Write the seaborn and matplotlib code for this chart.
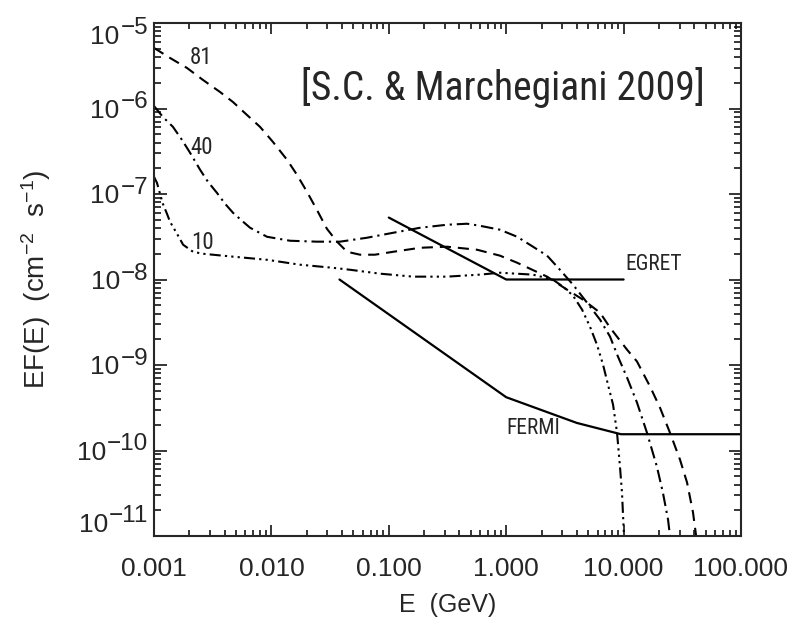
import matplotlib
matplotlib.use("Agg")
import matplotlib.pyplot as plt
from matplotlib import font_manager
from matplotlib.font_manager import FontProperties
from matplotlib.ticker import LogLocator, NullFormatter
import pandas as pd
import seaborn as sns

# ---- model spectra: photon energy E (GeV) and E F(E) (cm^-2 s^-1) ----
e_81 = [1.00e-3, 1.37e-3, 1.91e-3, 2.61e-3, 3.65e-3, 4.71e-3, 6.19e-3, 8.00e-3,
        1.03e-2, 1.36e-2, 1.65e-2, 2.01e-2, 2.44e-2, 2.97e-2, 3.62e-2, 4.41e-2,
        5.69e-2, 7.62e-2, 0.109, 0.185, 0.313, 0.564, 0.885, 1.24, 2.23, 3.30,
        4.51, 6.30, 7.66, 10.7, 13.0, 16.8, 20.4, 24.8, 30.2, 34.7, 39.0, 41.4]
f_81 = [5.11e-6, 3.90e-6, 2.98e-6, 2.16e-6, 1.56e-6, 1.19e-6, 8.41e-7, 6.10e-7,
        4.07e-7, 2.51e-7, 1.68e-7, 1.06e-7, 6.53e-8, 3.92e-8, 2.77e-8, 2.11e-8,
        1.95e-8, 1.95e-8, 2.11e-8, 2.35e-8, 2.42e-8, 2.23e-8, 1.90e-8, 1.57e-8,
        1.08e-8, 7.60e-9, 5.81e-9, 4.09e-9, 2.74e-9, 1.51e-9, 1.10e-9, 5.60e-10,
        3.18e-10, 1.62e-10, 7.85e-11, 4.23e-11, 1.89e-11, 1.02e-11]

e_40 = [1.00e-3, 1.19e-3, 1.45e-3, 1.73e-3, 2.03e-3, 2.47e-3, 2.88e-3, 3.44e-3,
        4.03e-3, 4.71e-3, 5.62e-3, 6.58e-3, 9.18e-3, 1.44e-2, 2.44e-2, 3.84e-2,
        6.52e-2, 0.109, 0.185, 0.313, 0.464, 0.598, 0.885, 1.24, 1.69, 2.23,
        2.87, 3.71, 4.88, 6.30, 7.66, 8.96, 10.7, 13.0, 15.8, 19.2, 21.6, 23.9, 24.8]
f_40 = [1.07e-6, 7.97e-7, 6.10e-7, 4.30e-7, 3.03e-7, 1.92e-7, 1.39e-7, 1.03e-7,
        7.69e-8, 6.03e-8, 4.86e-8, 4.03e-8, 3.16e-8, 2.84e-8, 2.77e-8, 2.77e-8,
        3.08e-8, 3.52e-8, 4.03e-8, 4.37e-8, 4.49e-8, 4.25e-8, 3.82e-8, 3.16e-8,
        2.42e-8, 1.90e-8, 1.30e-8, 8.69e-9, 5.36e-9, 3.39e-9, 2.15e-9, 1.25e-9,
        7.13e-10, 3.64e-10, 1.62e-10, 6.50e-11, 3.23e-11, 1.56e-11, 1.02e-11]

e_10 = [1.00e-3, 1.06e-3, 1.12e-3, 1.19e-3, 1.29e-3, 1.37e-3, 1.57e-3, 1.77e-3,
        2.15e-3, 2.61e-3, 4.71e-3, 9.18e-3, 1.75e-2, 3.35e-2, 4.68e-2, 8.42e-2,
        0.161, 0.313, 0.598, 0.885, 1.69, 2.50, 3.05, 3.71, 4.43, 5.17, 5.93,
        6.68, 7.36, 8.13, 8.79, 9.31, 9.69, 9.88, 10.08]
f_10 = [1.59e-7, 1.35e-7, 1.03e-7, 7.69e-8, 5.87e-8, 4.73e-8, 3.43e-8, 2.55e-8,
        2.11e-8, 2.00e-8, 1.85e-8, 1.70e-8, 1.49e-8, 1.37e-8, 1.30e-8, 1.17e-8,
        1.08e-8, 1.08e-8, 1.14e-8, 1.20e-8, 1.14e-8, 9.96e-9, 8.24e-9, 6.47e-9,
        4.44e-9, 2.81e-9, 1.73e-9, 1.01e-9, 5.90e-10, 3.44e-10, 1.62e-10,
        6.50e-11, 3.23e-11, 1.79e-11, 1.02e-11]

# ---- instrument sensitivities ----
e_egret = [0.1, 1.0, 10.0]
f_egret = [5.3e-8, 1.0e-8, 1.0e-8]
e_fermi = [0.038, 1.0, 4.0, 9.5, 100.0]
f_fermi = [1.0e-8, 4.2e-10, 2.1e-10, 1.55e-10, 1.55e-10]

# ---- axis ticks and text ----
x_ticks = [0.001, 0.01, 0.1, 1.0, 10.0, 100.0]
x_tick_labels = ["0.001", "0.010", "0.100", "1.000", "10.000", "100.000"]
y_ticks = [1e-5, 1e-6, 1e-7, 1e-8, 1e-9, 1e-10, 1e-11]
y_exponents = ["\u22125", "\u22126", "\u22127", "\u22128", "\u22129", "\u221210", "\u221211"]
curve_names = ["81", "40", "10"]
curve_label_pos = [(2.51e-3, 3.9e-6), (2.56e-3, 3.47e-7), (2.6e-3, 2.69e-8)]
citation = "[S.C. & Marchegiani 2009]"


def condensed_sans():
    """Return the file of an upright, regular-weight condensed sans face, if any."""
    preferred = ["liberation sans narrow", "arial narrow", "roboto condensed",
                 "noto sans", "open sans", "dejavu sans", "lato", "inter"]
    found = []
    for f in font_manager.fontManager.ttflist:
        nm = f.name.lower()
        narrow = ("narrow" in nm or "condensed" in nm
                  or str(f.stretch) in ("condensed", "semi-condensed", "extra-condensed"))
        if not narrow or f.style != "normal":
            continue
        if "mono" in nm or "serif" in nm or "cjk" in nm:
            continue
        if f.weight not in (400, "normal", "regular", "book"):
            continue
        rank = next((i for i, p in enumerate(preferred) if nm.startswith(p)), len(preferred))
        found.append((rank, f.fname))
    return sorted(found)[0][1] if found else None


# ---- styling ----
sns.set_theme(style="ticks")
MAIN = "Liberation Sans"
plt.rcParams["font.family"] = [MAIN, "DejaVu Sans"]
plt.rcParams["mathtext.fontset"] = "custom"
plt.rcParams["mathtext.rm"] = MAIN
plt.rcParams["mathtext.it"] = MAIN
plt.rcParams["mathtext.default"] = "regular"
plt.rcParams["lines.scale_dashes"] = False
plt.rcParams["axes.linewidth"] = 1.5

narrow_file = condensed_sans()
if narrow_file:
    note_fp = FontProperties(fname=narrow_file, size=28.5)
    lab_fp = FontProperties(fname=narrow_file, size=15.5)
    num_fp = FontProperties(fname=narrow_file, size=16.5)
else:
    note_fp = FontProperties(family=MAIN, size=25)
    lab_fp = FontProperties(family=MAIN, size=13.5)
    num_fp = FontProperties(family=MAIN, size=15.5)

fig = plt.figure(figsize=(8.04, 6.2), dpi=100)
ax = fig.add_axes([154 / 804, 1 - 536 / 620, 587 / 804, 513 / 620])
ax.set_xscale("log")
ax.set_yscale("log")

frames = []
for name, e, f in [("81", e_81, f_81), ("40", e_40, f_40), ("10", e_10, f_10),
                   ("EGRET", e_egret, f_egret), ("FERMI", e_fermi, f_fermi)]:
    frames.append(pd.DataFrame({"curve": name, "E": e, "EF": f}))
df = pd.concat(frames, ignore_index=True)

styles = {
    "81": dict(linestyle=(0, (8.0, 5.0)), linewidth=1.5),
    "40": dict(linestyle=(0, (9.0, 3.5, 1.6, 3.5)), linewidth=1.5),
    "10": dict(linestyle=(0, (8.0, 3.0, 1.6, 3.0, 1.6, 3.0, 1.6, 3.0)), linewidth=1.5),
    "EGRET": dict(linestyle="-", linewidth=1.6),
    "FERMI": dict(linestyle="-", linewidth=1.6),
}
for name, kw in styles.items():
    sns.lineplot(data=df[df["curve"] == name], x="E", y="EF", ax=ax,
                 color="black", estimator=None, sort=False, legend=False, **kw)

ax.set_xlim(1e-3, 1e2)
ax.set_ylim(1e-11, 1e-5)
ax.grid(False)

# ticks
ax.set_xticks(x_ticks, labels=x_tick_labels)
ax.xaxis.set_minor_locator(LogLocator(base=10, subs=range(2, 10), numticks=100))
ax.xaxis.set_minor_formatter(NullFormatter())
ax.yaxis.set_major_locator(LogLocator(base=10, numticks=100))
ax.yaxis.set_minor_locator(LogLocator(base=10, subs=range(2, 10), numticks=100))
ax.yaxis.set_minor_formatter(NullFormatter())
ax.tick_params(which="both", direction="in", top=True, right=True,
               width=1.1, color="black")
ax.tick_params(axis="x", which="major", length=8, labelsize=19, pad=15)
ax.tick_params(axis="x", which="minor", length=4.5)
ax.tick_params(axis="y", which="major", length=9, labelleft=False)
ax.tick_params(axis="y", which="minor", length=5)

# power-of-ten labels on the y axis, with a full-size exponent
y_shift = {0: -8.0, len(y_ticks) - 1: 10.0}
for i, (val, ex) in enumerate(zip(y_ticks, y_exponents)):
    dy = y_shift.get(i, 0.0)
    ex_txt = ax.annotate(ex, xy=(0, val), xycoords=("axes fraction", "data"),
                         xytext=(-4.3, dy), textcoords="offset points",
                         ha="right", va="baseline", fontsize=17.5)
    ax.annotate("10", xy=(0, val), xycoords=(ex_txt, "data"),
                xytext=(-0.5, dy - 6.8), textcoords="offset points",
                ha="right", va="baseline", fontsize=19)

ax.set_xlabel("E  (GeV)", fontsize=18)
ax.xaxis.set_label_coords(0.5, -0.112)
ax.set_ylabel("EF(E)  (cm$^{-2}$  s$^{-1}$)", fontsize=20)
ax.yaxis.set_label_coords(-0.172, 0.5)

# curve and instrument labels
for name, (x, y) in zip(curve_names, curve_label_pos):
    ax.text(x, y, name, ha="center", va="center", fontproperties=num_fp)
ax.text(10.3, 1.49e-8, "EGRET", ha="left", va="center", fontproperties=lab_fp)
ax.text(1.69, 1.81e-10, "FERMI", ha="center", va="center", fontproperties=lab_fp)

ax.text(0.595, 0.875, citation, transform=ax.transAxes, ha="center", va="center",
        fontproperties=note_fp)

fig.savefig("out.png", dpi=100)
